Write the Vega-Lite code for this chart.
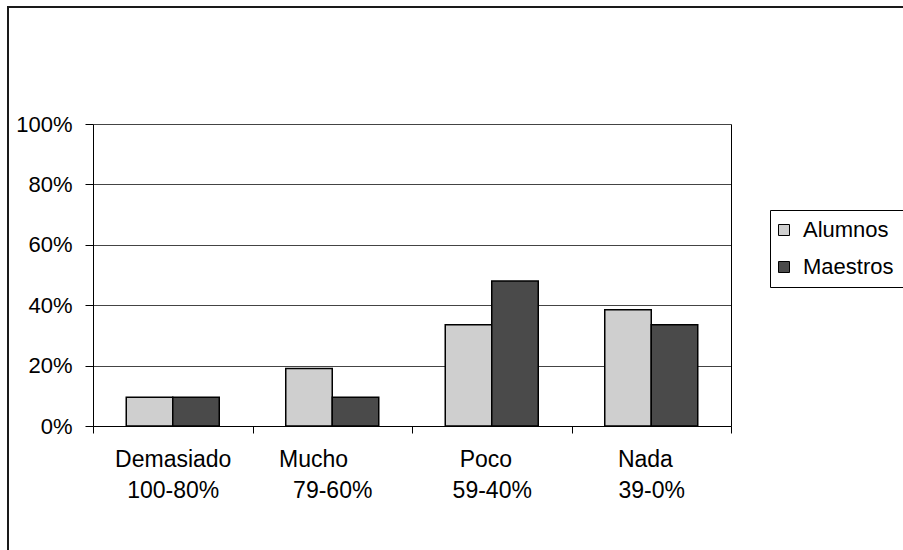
{
  "$schema": "https://vega.github.io/schema/vega-lite/v6.json",
  "width": 897,
  "height": 545,
  "autosize": {"type": "none"},
  "padding": {"left": 8, "top": 7, "right": 0, "bottom": 0},
  "background": "white",
  "config": {
    "font": "Liberation Sans",
    "view": {"stroke": "#1a1a1a", "strokeWidth": 2}
  },
  "data": {
    "values": [
      {"categoria": "Demasiado 100-80%", "serie": "Alumnos", "valor": 0.095},
      {"categoria": "Demasiado 100-80%", "serie": "Maestros", "valor": 0.095},
      {"categoria": "Mucho 79-60%", "serie": "Alumnos", "valor": 0.19},
      {"categoria": "Mucho 79-60%", "serie": "Maestros", "valor": 0.095},
      {"categoria": "Poco 59-40%", "serie": "Alumnos", "valor": 0.335},
      {"categoria": "Poco 59-40%", "serie": "Maestros", "valor": 0.48},
      {"categoria": "Nada 39-0%", "serie": "Alumnos", "valor": 0.385},
      {"categoria": "Nada 39-0%", "serie": "Maestros", "valor": 0.335}
    ]
  },
  "layer": [
    {
      "mark": {"type": "bar", "stroke": "#000", "strokeWidth": 1.5},
      "encoding": {
        "x": {
          "field": "categoria",
          "type": "nominal",
          "sort": null,
          "scale": {"range": [85, 723], "paddingInner": 0, "paddingOuter": 0},
          "axis": {
            "title": null,
            "orient": "bottom",
            "offset": -126,
            "labelAngle": 0,
            "labelExpr": "[split(datum.label,' ')[0] + (indexof(datum.label,'Mucho')==0 ? '\u00a0\u00a0\u00a0\u00a0\u00a0\u00a0\u200b' : ((indexof(datum.label,'Poco')==0 || indexof(datum.label,'Nada')==0) ? '\u00a0\u00a0\u200b' : '')), split(datum.label,' ')[1]]",
            "labelFontSize": 23,
            "labelColor": "#000",
            "labelPadding": 15,
            "labelLineHeight": 31,
            "labelBaseline": "top",
            "tickBand": "extent",
            "tickSize": 7,
            "tickColor": "#000",
            "domainColor": "#000"
          }
        },
        "xOffset": {
          "field": "serie",
          "type": "nominal",
          "sort": ["Alumnos", "Maestros"],
          "scale": {"paddingInner": 0, "paddingOuter": 0.715}
        },
        "y": {
          "field": "valor",
          "type": "quantitative",
          "scale": {"domain": [0, 1], "range": [419, 117]},
          "axis": {
            "title": null,
            "values": [0, 0.2, 0.4, 0.6, 0.8, 1],
            "format": ".0%",
            "offset": -85,
            "labelFontSize": 22,
            "labelColor": "#000",
            "labelPadding": 13,
            "tickSize": 8,
            "tickColor": "#000",
            "domainColor": "#000",
            "grid": true,
            "gridColor": "#444",
            "gridWidth": 1
          }
        },
        "fill": {
          "field": "serie",
          "type": "nominal",
          "scale": {"domain": ["Alumnos", "Maestros"], "range": ["#cfcfcf", "#4a4a4a"]},
          "legend": {
            "title": null,
            "orient": "none",
            "legendX": 762,
            "legendY": 203,
            "strokeColor": "#000",
            "fillColor": "#fff",
            "padding": 9,
            "labelFontSize": 22,
            "labelColor": "#000",
            "symbolType": "square",
            "symbolSize": 121,
            "symbolStrokeColor": "#000",
            "symbolStrokeWidth": 1,
            "symbolOffset": -6,
            "rowPadding": 15,
            "labelOffset": 8
          }
        }
      }
    },
    {
      "mark": {"type": "rule", "opacity": 0},
      "encoding": {
        "y": {
          "field": "valor",
          "type": "quantitative",
          "axis": {
            "orient": "right",
            "offset": -174,
            "labels": false,
            "ticks": false,
            "grid": false,
            "title": null,
            "domainColor": "#000"
          }
        }
      }
    }
  ],
  "resolve": {"axis": {"y": "independent"}}
}
